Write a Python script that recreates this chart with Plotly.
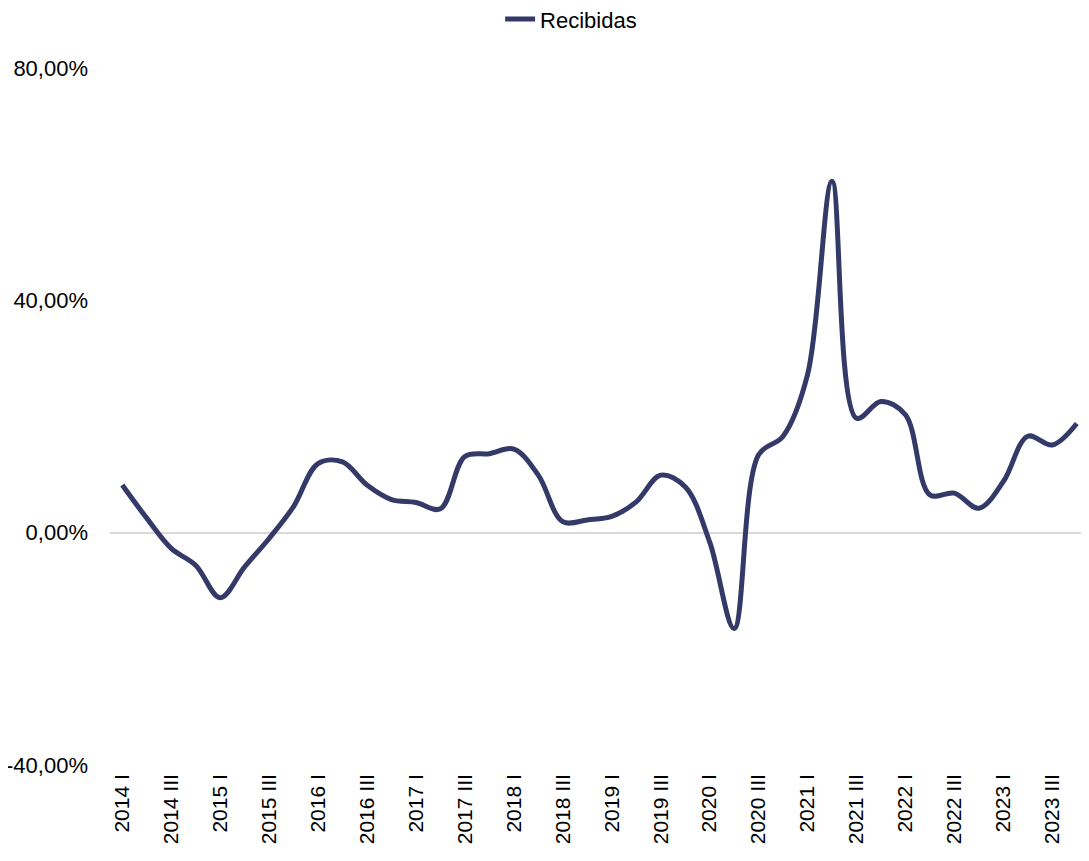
import plotly.graph_objects as go

quarters = [f"{y} {q}" for y in range(2014, 2024) for q in ("I", "II", "III", "IV")]

recibidas = [
    8.2, 2.5, -2.7, -5.6,
    -11.2, -5.9, -1.0, 4.5,
    11.9, 12.2, 8.2, 5.7,
    5.2, 4.1, 13.1, 13.6,
    14.4, 9.9, 1.9, 2.2,
    2.8, 5.3, 9.9, 7.9,
    -1.6, -16.5, 13.4, 16.6,
    27.2, 60.5, 19.7, 22.6,
    20.3, 6.5, 6.8, 4.2,
    8.8, 16.6, 15.1, 18.8,
]

tick_labels = quarters[::2]
y_ticks = [-40, 0, 40, 80]
y_tick_text = ["-40,00%", "0,00%", "40,00%", "80,00%"]

fig = go.Figure()
fig.add_trace(go.Scatter(
    x=quarters, y=recibidas, name="Recibidas", mode="lines",
    line=dict(color="#333A68", width=5, shape="spline", smoothing=1.0),
))

# page body adds an 8px offset, so the figure is sized/shifted to compensate
fig.update_layout(
    width=1081, height=853,
    paper_bgcolor="white", plot_bgcolor="white",
    margin=dict(l=102, r=0, t=60, b=96, autoexpand=False),
    font=dict(family="Liberation Sans, Arial", size=22, color="#000000"),
    showlegend=True,
    legend=dict(orientation="h", x=0.471, xanchor="center", y=1.07, yanchor="middle",
                font=dict(size=22), bgcolor="rgba(0,0,0,0)"),
    xaxis=dict(
        type="category", range=[-0.5, 39.5], automargin=False,
        tickmode="array", tickvals=tick_labels, ticktext=tick_labels,
        tickangle=-90, showgrid=False, showline=False, ticks="",
        tickfont=dict(size=21), ticklabelstandoff=4,
    ),
    yaxis=dict(
        range=[-40, 80], tickvals=y_ticks, ticktext=y_tick_text, automargin=False,
        showgrid=False, zeroline=True, zerolinecolor="#d9d9d9", zerolinewidth=2,
        showline=False, ticks="", ticklabelstandoff=21,
    ),
)

fig.write_html("out.html")
